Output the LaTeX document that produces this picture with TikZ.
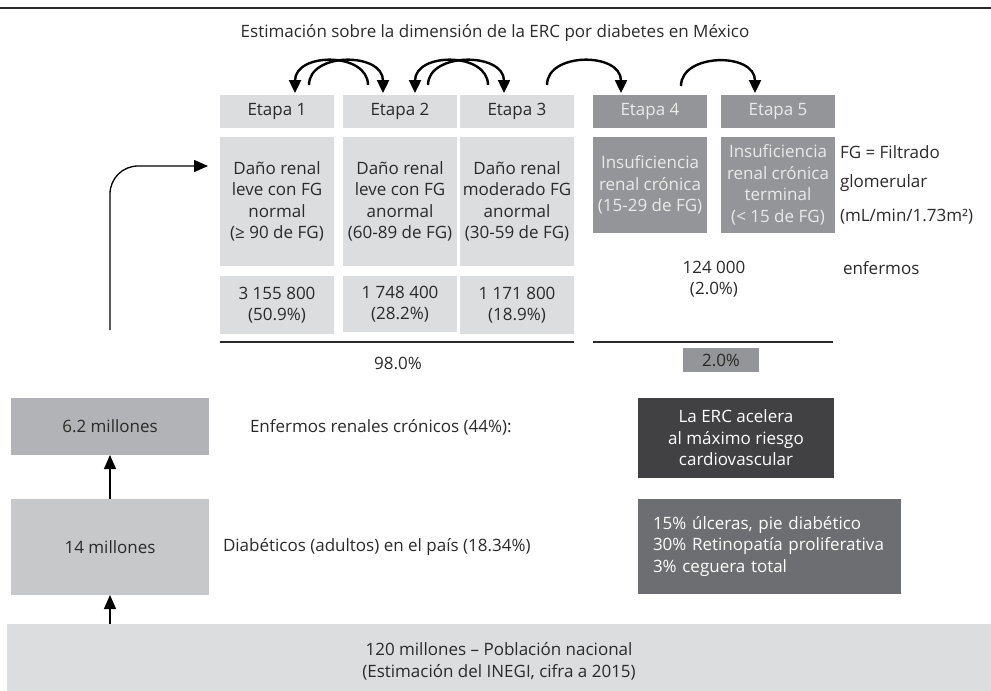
\documentclass[tikz,border=0pt]{standalone}
\usepackage{fontspec}
\setmainfont{Open Sans}
\usetikzlibrary{arrows.meta,calc}
\definecolor{txt}{HTML}{2A2A2A}
\definecolor{cLight}{HTML}{DCDDDF}
\definecolor{cMid}{HTML}{939598}
\definecolor{cSix}{HTML}{B1B3B6}
\definecolor{cFourteen}{HTML}{C7C8CA}
\definecolor{cDark}{HTML}{414042}
\definecolor{cGrey}{HTML}{6D6E71}
\definecolor{cPale}{HTML}{EAEAEB}
\newcommand\fsz{\fontsize{17}{21.5}\selectfont}
\tikzset{
  base/.style={inner sep=0pt, outer sep=0pt, font=\fsz, text=txt},
  lightbox/.style={base, fill=cLight, align=center, minimum width=114pt},
  midbox/.style={base, fill=cMid, text=cPale, align=center, minimum width=114pt},
  plain/.style={base, align=center},
  rule/.style={line width=1.3pt, draw=txt},
  arcarrow/.style={line width=2.4pt, draw=black, -{Triangle[length=13pt,width=12pt]}},
  uparrow/.style={line width=1.3pt, draw=black, -{Triangle[length=14pt,width=12pt]}},
}
\begin{document}
\begin{tikzpicture}[x=1pt,y=-1pt]
\useasboundingbox (0,0) rectangle (991,691);
% top rule
\draw[line width=1.8pt, draw=txt] (0,8) -- (991,8);
\node[plain] (title) at (495,33) {Estimación sobre la dimensión de la ERC por diabetes en México};
% etapa headers
\node[lightbox, minimum height=33pt] (e1) at (277,111.5) {Etapa 1};
\node[lightbox, minimum height=33pt] (e2) at (400,111.5) {Etapa 2};
\node[lightbox, minimum height=33pt] (e3) at (517,111.5) {Etapa 3};
\node[midbox, minimum height=33pt] (e4) at (650,111.5) {Etapa 4};
\node[midbox, minimum height=33pt] (e5) at (778,111.5) {Etapa 5};
% descriptions
\node[lightbox, minimum height=129pt] (d1) at (277,201.5) {Daño renal\\leve con FG\\normal\\(≥ 90 de FG)};
\node[lightbox, minimum height=129pt] (d2) at (400,201.5) {Daño renal\\leve con FG\\anormal\\(60-89 de FG)};
\node[lightbox, minimum height=129pt] (d3) at (517,201.5) {Daño renal\\moderado FG\\anormal\\(30-59 de FG)};
\node[midbox, minimum height=96pt] (d4) at (650,185) {Insuficiencia\\renal crónica\\(15-29 de FG)};
\node[midbox, minimum height=96pt] (d5) at (778,185) {Insuficiencia\\renal crónica\\terminal\\(< 15 de FG)};
% numbers
\node[lightbox, minimum height=58pt] (n1) at (277,305) {3 155 800\\(50.9\%)};
\node[lightbox, minimum height=56pt] (n2) at (400,304) {1 748 400\\(28.2\%)};
\node[lightbox, minimum height=58pt] (n3) at (517,305) {1 171 800\\(18.9\%)};
\node[plain] (n45) at (714,279) {124 000\\(2.0\%)};
\node[base, anchor=west] (enf) at (843,268) {enfermos};
\node[base, anchor=west] (fg1) at (840,152) {FG = Filtrado};
\node[base, anchor=west] (fg2) at (840,183) {glomerular};
\node[base, anchor=west] (fg3) at (840,217) {(mL/min/1.73m²)};
% rules and totals
\draw[rule] (220,342) -- (574,342);
\draw[rule] (593,342) -- (833,342);
\node[plain] (p98) at (398,363) {98.0\%};
\node[base, fill=cMid, minimum width=76pt, minimum height=24pt] (p2) at (721,360) {2.0\%};
% stage arcs
\draw[arcarrow] ([xshift=-32pt,yshift=10pt]e2.north) .. controls +(0,-33) and +(0,-41) .. ([xshift=18pt,yshift=2pt]e1.north);
\draw[arcarrow] ([xshift=32pt,yshift=10pt]e1.north) .. controls +(0,-33) and +(0,-41) .. ([xshift=-17pt,yshift=2pt]e2.north);
\draw[arcarrow] ([xshift=-29pt,yshift=10pt]e3.north) .. controls +(0,-33) and +(0,-41) .. ([xshift=15pt,yshift=2pt]e2.north);
\draw[arcarrow] ([xshift=28pt,yshift=10pt]e2.north) .. controls +(0,-33) and +(0,-41) .. ([xshift=-13pt,yshift=2pt]e3.north);
\draw[arcarrow] ([xshift=30pt,yshift=10pt]e3.north) .. controls +(0,-33) and +(0,-41) .. ([xshift=-29pt,yshift=2pt]e4.north);
\draw[arcarrow] ([xshift=31pt,yshift=9pt]e4.north) .. controls +(0,-33) and +(0,-41) .. ([xshift=-23pt,yshift=2pt]e5.north);
% left column
\node[base, fill=cSix, minimum width=198pt, minimum height=57pt] (m62) at (110,426.5) {6.2 millones};
\node[base, fill=cFourteen, minimum width=198pt, minimum height=96pt] (m14) at (110,547) {14 millones};
\node[base, fill=cLight, minimum width=984pt, minimum height=67pt] (pop) at (499,657.5) {};
\node[plain] (poptxt) at (499,661.5) {120 millones – Población nacional\\(Estimación del INEGI, cifra a 2015)};
\draw[uparrow] (pop.north -| m14.south) -- (m14.south);
\draw[uparrow] (m14.north) -- (m62.south);
\coordinate (cstart) at (110,330);
\draw[uparrow, rounded corners=28pt] (cstart) |- ([xshift=-12pt,yshift=-29pt]d1.north west);
\node[base, anchor=west] (enfr) at (250,427) {Enfermos renales crónicos (44\%):};
\node[base, anchor=west] (diab) at (223,547) {Diabéticos (adultos) en el país (18.34\%)};
\node[base, fill=cDark, text=white, align=center, minimum width=196pt, minimum height=80pt] (erc) at (736,438) {La ERC acelera\\al máximo riesgo\\cardiovascular};
\node[base, fill=cGrey, text=white, align=left, text width=233pt, inner xsep=15pt, minimum height=95pt] (comp) at (769.5,546.5) {15\% úlceras, pie diabético\\30\% Retinopatía proliferativa\\3\% ceguera total};
\end{tikzpicture}
\end{document}
